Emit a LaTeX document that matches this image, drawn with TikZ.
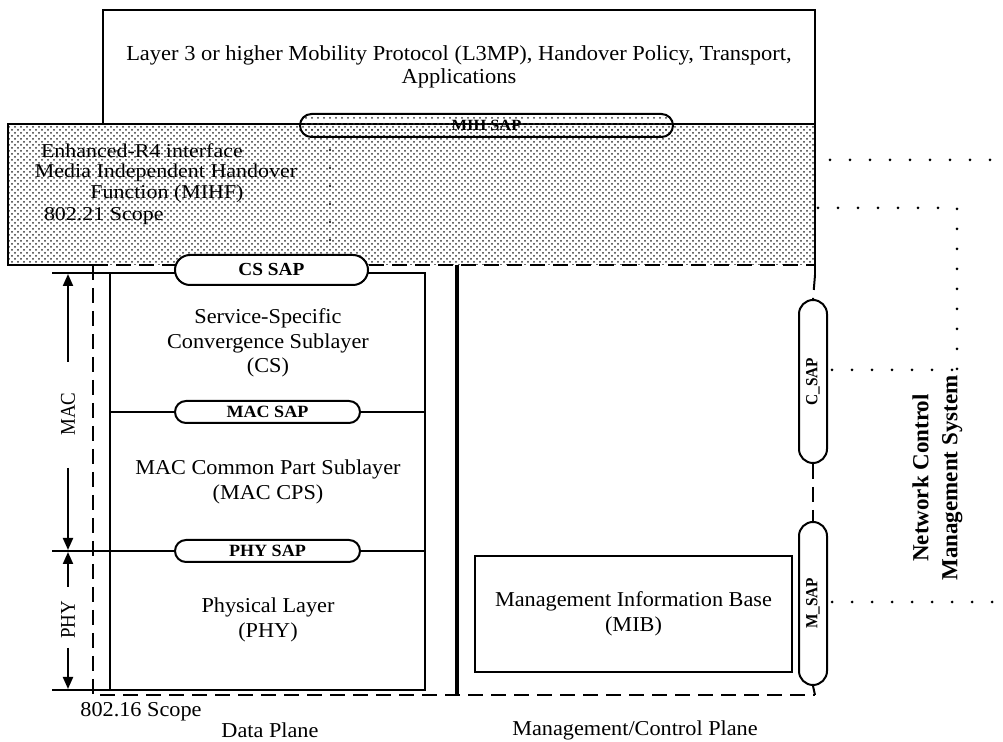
\documentclass[tikz,border=0pt]{standalone}
\usepackage{fontspec}
\setmainfont{Liberation Serif}[FakeStretch=1.05]
\newfontfamily\rotfont{Liberation Serif}[FakeStretch=0.9]
\newfontfamily\widefont{Liberation Serif}[FakeStretch=1.12]
\newfontfamily\plainfont{Liberation Serif}
\usetikzlibrary{shapes.misc,patterns,arrows.meta}
\begin{document}
\begin{tikzpicture}[x=0.5pt,y=-0.5pt, line width=1pt,
  sap/.style={draw, fill=white, rounded rectangle, inner sep=0pt, font=\bfseries\fontsize{8.6}{9}\selectfont},
  vsap/.style={draw, fill=white, rounded rectangle, inner sep=0pt, rotate=90, minimum width=81.5pt, minimum height=14pt, font=\rotfont\bfseries\fontsize{8.5}{9}\selectfont},
  lbl/.style={align=center, font=\fontsize{10.6}{12.3}\selectfont, inner sep=0pt},
  mihlbl/.style={align=center, font=\widefont\fontsize{9.8}{10}\selectfont, inner sep=0pt},
  dashedline/.style={dash pattern=on 7.5pt off 4pt},
  dotline/.style={line width=1.5pt, line cap=round, dash pattern=on 0pt off 10pt},
  arr/.style={-{Triangle[length=6pt,width=5pt]}},
  sidelbl/.style={rotate=90, font=\rotfont\fontsize{10.5}{12}\selectfont, inner sep=0pt}
]
\useasboundingbox (0,0) rectangle (1003,742);

% top box
\node[draw, minimum width=356pt, minimum height=57pt, inner sep=0pt, align=center, font=\fontsize{10.7}{11.5}\selectfont] (topbox) at (459,67)
  {Layer 3 or higher Mobility Protocol (L3MP), Handover Policy, Transport,\\Applications};

% shaded MIHF box
\fill[pattern=crosshatch dots, pattern color=black!80] (8,124) rectangle (815,265);
\draw (93,265) -- (8,265) -- (8,124) -- (815,124) -- (815,275);
\coordinate (scopeTL) at (93,265);
\coordinate (scopeTR) at (815,265);
\coordinate (scopeBL) at (93,695);
\coordinate (scopeBR) at (815,695);
\draw[dashedline] (scopeTL) -- (scopeTR);
\draw[dashedline] (scopeTL) -- (scopeBL) -- (scopeBR);

\node[anchor=west, mihlbl] (mihf1) at (40,151) {Enhanced-R4 interface};
\node[mihlbl] (mihf2) at (166,172.5) {Media Independent Handover};
\node[mihlbl] (mihf3) at (167,194) {Function (MIHF)};
\node[anchor=west, mihlbl] (mihf4) at (43,216) {802.21 Scope};

% vertical dotted line in shaded area
\coordinate (vd1) at (330,150);
\coordinate (vd2) at (330,258);
\draw[dotline, line width=1.2pt, dash pattern=on 0pt off 9pt] (vd1) -- (vd2);

% MIH SAP
\node[sap, pattern=dots, pattern color=black!80, minimum width=186.5pt, minimum height=11.5pt, font=\bfseries\fontsize{7.8}{8}\selectfont] (mihsap) at (486.5,125.5) {MIH SAP};

% data plane box
\draw (52,273) -- (425,273) -- (425,690) -- (52,690);
\draw (110,273) -- (110,690);
\draw (110,412) -- (425,412);
\draw (52,551) -- (425,551);

\node[sap, minimum width=96.5pt, minimum height=15pt, font=\bfseries\fontsize{9.2}{9}\selectfont] (cssap) at (271.5,270) {CS SAP};
\node[sap, minimum width=92.5pt, minimum height=11pt] (macsap) at (267.5,412) {MAC SAP};
\node[sap, minimum width=92.5pt, minimum height=11pt] (physap) at (267.5,551) {PHY SAP};

\node[lbl] (cs) at (268,343) {Service-Specific\\Convergence Sublayer\\(CS)};
\node[lbl] (cps) at (268,482) {MAC Common Part Sublayer\\(MAC CPS)};
\node[lbl] (phy) at (268,620) {Physical Layer\\(PHY)};

% MAC / PHY dimension arrows
\node[sidelbl] (maclbl) at (68,414) {MAC};
\node[sidelbl] (phylbl) at (68,620) {PHY};
\coordinate (macTop) at (68,274);
\coordinate (macBot) at (68,550);
\coordinate (phyTop) at (68,552);
\coordinate (phyBot) at (68,689);
\draw[arr] (68,362) -- (macTop);
\draw[arr] (68,468) -- (macBot);
\draw[arr] (68,587) -- (phyTop);
\draw[arr] (68,648) -- (phyBot);

% plane separator
\draw[line width=1.8pt] (457,265) -- (457,695);

% MIB
\node[draw, minimum width=158.5pt, minimum height=58pt, inner sep=0pt, lbl] (mib) at (633.5,614) {Management Information Base\\(MIB)};

% right side SAPs
\node[vsap] (csap) at (813,381.5) {C\_SAP};
\node[vsap] (msap) at (813,603.5) {M\_SAP};
\draw[dashedline] (815,275) -- (csap.east);
\draw[dashedline] (csap.west) -- (msap.east);
\draw (msap.west) -- (scopeBR);

% dotted links to network control management system
\coordinate (d1a) at (830,160);
\coordinate (d1b) at (1003,160);
\coordinate (d2a) at (818,208);
\coordinate (d2c) at (957,208);
\coordinate (d3a) at (832,370);
\coordinate (d3b) at (957,370);
\coordinate (d4a) at (832,602);
\coordinate (d4b) at (1003,602);
\draw[dotline] (d1a) -- (d1b);
\draw[dotline] (d2a) -- (d2c) -- (d3b);
\draw[dotline] (d3a) -- (d3b);
\draw[dotline] (d4a) -- (d4b);

\node[rotate=90, align=center, font=\plainfont\bfseries\fontsize{11.5}{14.5}\selectfont, inner sep=0pt] (ncms) at (937.5,478) {Network Control\\Management System};

% bottom labels
\node[lbl] (scope16) at (141,712) {802.16 Scope};
\node[lbl] (dataplane) at (270,730) {Data Plane};
\node[lbl] (mgmtplane) at (635,730) {Management/Control Plane};
\end{tikzpicture}
\end{document}
